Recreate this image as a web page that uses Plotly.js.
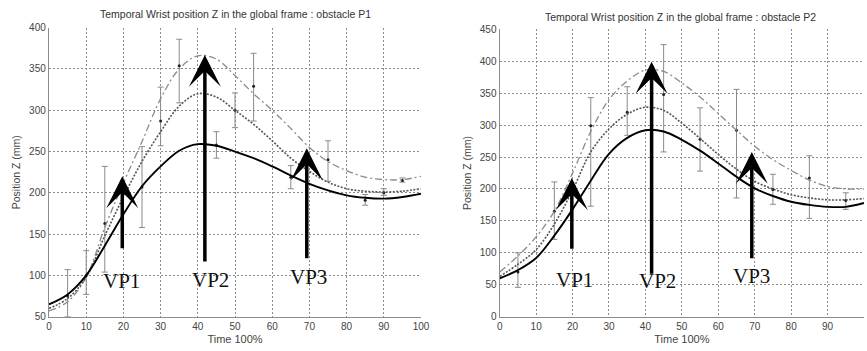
<!DOCTYPE html>
<html>
<head>
<meta charset="utf-8">
<script src="https://cdn.plot.ly/plotly-3.0.1.min.js"></script>
<style>html,body{margin:0;padding:0;background:#fff;}#chart{width:867px;height:351px;}</style>
</head>
<body>
<div id="chart"></div>
<script>
// ---- data ----
var timeX = [0,5,10,15,20,25,30,35,40,45,50,55,60,65,70,75,80,85,90,95,100];

// obstacle P1
var p1Solid   = [65,77,100,136,174,208,232,251,259,257,250,242,232,221,211,203,197,194,193,195,199];
var p1Dotted  = [60,72,98,148,195,238,274,305,320,316,300,283,263,242,226,213,205,202,201,202,205];
var p1DashDot = [57,68,98,158,212,262,314,350,366,362,342,320,300,278,255,238,227,219,216,216,220];
var p1ErrX    = [5,10,15,25,30,35,45,50,55,65,75,85,90,95];
var p1ErrMid  = [75,100,163,207,287,354,258,300,329,219,240,191,200,215];
var p1ErrLow  = [50,77,104,158,257,309,242,279,287,205,214,185,197,213];
var p1ErrHigh = [107,130,232,256,328,386,274,321,369,233,263,198,205,218];
var p1ArrowX    = [19.7,41.9,69.3];
var p1ArrowTip  = [220,367,254];
var p1ArrowTail = [131,115,119];
var p1LabelX    = [19.5,43.3,69.7];
var p1LabelY    = [93,95,98];

// obstacle P2
var p2Solid   = [60,73,92,127,168,213,255,280,292,290,277,260,240,219,201,189,180,175,172,172,178];
var p2Dotted  = [63,82,105,145,198,258,294,317,328,323,303,279,254,231,212,200,191,186,183,183,185];
var p2DashDot = [70,95,125,165,225,290,340,369,386,384,366,344,318,292,267,246,229,214,204,200,200];
var p2ErrX    = [5,15,25,35,45,55,65,75,85,95];
var p2ErrMid  = [70,165,299,320,348,278,292,199,217,182];
var p2ErrLow  = [46,121,173,284,258,228,186,176,154,168];
var p2ErrHigh = [100,211,343,360,426,327,356,223,252,194];
var p2ArrowX    = [19.8,41.7,69.2];
var p2ArrowTip  = [217,399,258];
var p2ArrowTail = [104,65,89];
var p2LabelX    = [20.4,43.3,69.1];
var p2LabelY    = [57,56,64];

var vpLabels = ['VP1','VP2','VP3'];
var titles = ['Temporal Wrist position Z in the global frame : obstacle P1',
              'Temporal Wrist position Z in the global frame : obstacle P2'];

// ---- build ----
function diff(a, b){ return a.map(function(v,i){ return v - b[i]; }); }

function curveTraces(xa, ya, solid, dotted, dashdot, ex, emid, elow, ehigh){
  return [
    {x: ex, y: emid, xaxis: xa, yaxis: ya, type:'scatter', mode:'markers',
     marker:{size:3, color:'#222'},
     error_y:{type:'data', symmetric:false, array: diff(ehigh, emid), arrayminus: diff(emid, elow),
              color:'#8a8a8a', thickness:1, width:3},
     showlegend:false, hoverinfo:'skip'},
    {x: timeX, y: dashdot, xaxis: xa, yaxis: ya, type:'scatter', mode:'lines',
     line:{color:'#8a8a8a', width:1.3, dash:'7px,3px,2px,3px', shape:'spline', smoothing:1}, showlegend:false},
    {x: timeX, y: dotted, xaxis: xa, yaxis: ya, type:'scatter', mode:'lines',
     line:{color:'#555', width:1.6, dash:'2px,1.5px', shape:'spline', smoothing:1}, showlegend:false},
    {x: timeX, y: solid, xaxis: xa, yaxis: ya, type:'scatter', mode:'lines',
     line:{color:'#000', width:1.9, shape:'spline', smoothing:1}, showlegend:false}
  ];
}

var data = [].concat(
  curveTraces('x','y', p1Solid, p1Dotted, p1DashDot, p1ErrX, p1ErrMid, p1ErrLow, p1ErrHigh),
  curveTraces('x2','y2', p2Solid, p2Dotted, p2DashDot, p2ErrX, p2ErrMid, p2ErrLow, p2ErrHigh)
);

var annotations = [];
function addArrows(xr, yr, ax, tip, tail, lx, ly){
  for (var i = 0; i < ax.length; i++){
    annotations.push({xref:xr, yref:yr, axref:xr, ayref:yr, x: ax[i], y: tip[i], ax: ax[i], ay: tail[i],
      text:'', showarrow:true, arrowhead:3, arrowwidth:3.5, arrowsize:1.52, arrowcolor:'#000', standoff:0});
    annotations.push({xref:xr, yref:yr, x: lx[i], y: ly[i], text: vpLabels[i], showarrow:false,
      xanchor:'center', yanchor:'middle',
      font:{family:'Liberation Serif, Times New Roman, serif', size:21, color:'#111'}});
  }
}
addArrows('x','y', p1ArrowX, p1ArrowTip, p1ArrowTail, p1LabelX, p1LabelY);
addArrows('x2','y2', p2ArrowX, p2ArrowTip, p2ArrowTail, p2LabelX, p2LabelY);

annotations.push({xref:'paper', yref:'paper', x: 235/867, y: 1 - 14/351, xanchor:'center', yanchor:'middle',
  text: titles[0], showarrow:false,
  font:{family:'Liberation Sans, Arial, sans-serif', size:10.5, color:'#333'}});
annotations.push({xref:'paper', yref:'paper', x: 680.5/867, y: 1 - 17/351, xanchor:'center', yanchor:'middle',
  text: titles[1], showarrow:false,
  font:{family:'Liberation Sans, Arial, sans-serif', size:10.5, color:'#333'}});

function xAxis(domain, anchor){
  return {domain: domain, anchor: anchor, range:[0,100], dtick:10, tick0:0, showgrid:true,
    gridcolor:'#8c8c8c', griddash:'2px,2px', gridwidth:1, zeroline:false,
    showline:true, linecolor:'#8c8c8c', linewidth:1.2, ticks:'',
    tickfont:{family:'Liberation Sans, Arial, sans-serif', size:10, color:'#444'},
    title:{text:'Time 100%', font:{family:'Liberation Sans, Arial, sans-serif', size:11, color:'#444'}, standoff:4}};
}
function yAxis(domain, anchor, range){
  return {domain: domain, anchor: anchor, range: range, dtick:50, tick0:0, showgrid:true,
    gridcolor:'#8c8c8c', griddash:'2px,2px', gridwidth:1, zeroline:false,
    showline:true, linecolor:'#8c8c8c', linewidth:1.2, ticks:'',
    tickfont:{family:'Liberation Sans, Arial, sans-serif', size:10, color:'#444'},
    title:{text:'Position Z (mm)', font:{family:'Liberation Sans, Arial, sans-serif', size:10.5, color:'#444'}, standoff:6}};
}

var layout = {
  width:867, height:351,
  margin:{l:0, r:0, t:0, b:0},
  paper_bgcolor:'#fff', plot_bgcolor:'#fff',
  showlegend:false,
  xaxis: xAxis([49/867, 421/867], 'y'),
  yaxis: yAxis([1-316.7/351, 1-27.7/351], 'x', [50,400]),
  xaxis2: xAxis([499.7/867, 864/867], 'y2'),
  yaxis2: yAxis([1-316.7/351, 1-29.3/351], 'x2', [0,450]),
  annotations: annotations
};

Plotly.newPlot('chart', data, layout, {staticPlot:true, displayModeBar:false});
</script>
</body>
</html>
